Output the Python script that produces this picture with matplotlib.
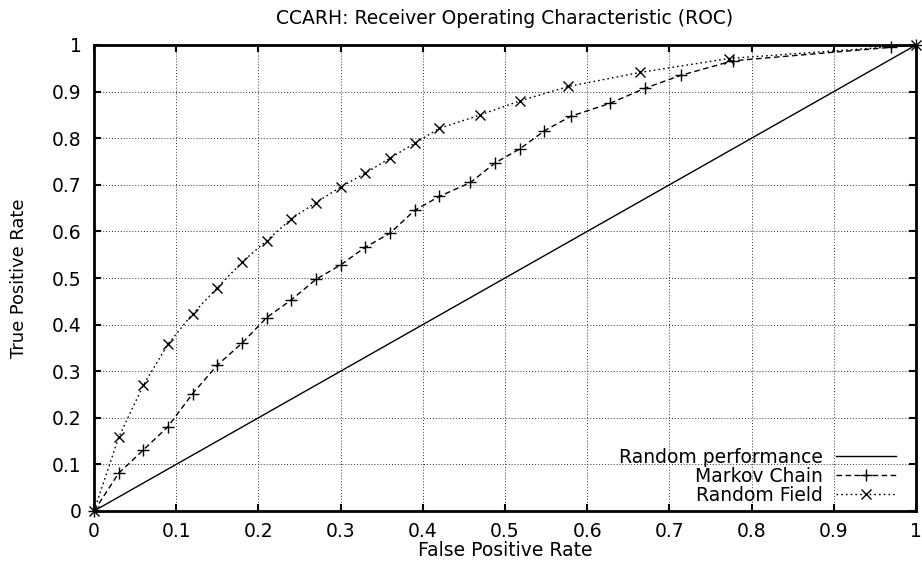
import numpy as np
import matplotlib.pyplot as plt

plt.rcParams['font.family'] = ['DejaVu Sans']

# Markov Chain (+)
mc_fpr = [0.0, 0.03, 0.06, 0.09, 0.12, 0.15, 0.18, 0.21, 0.24, 0.27, 0.30, 0.33,
          0.36, 0.39, 0.42, 0.458, 0.488, 0.518, 0.548, 0.58, 0.628, 0.67, 0.714,
          0.777, 0.969, 1.0]
mc_tpr = [0.0, 0.081, 0.131, 0.181, 0.252, 0.313, 0.360, 0.415, 0.453, 0.497, 0.528, 0.566,
          0.596, 0.645, 0.675, 0.705, 0.747, 0.777, 0.816, 0.847, 0.875, 0.907, 0.935,
          0.966, 0.995, 1.0]

# Random Field (x)
rf_fpr = [0.0, 0.03, 0.06, 0.09, 0.12, 0.15, 0.18, 0.21, 0.24, 0.27, 0.30, 0.33,
          0.36, 0.39, 0.42, 0.47, 0.518, 0.577, 0.664, 0.772, 1.0]
rf_tpr = [0.0, 0.158, 0.270, 0.358, 0.423, 0.479, 0.534, 0.580, 0.627, 0.662, 0.695, 0.725,
          0.757, 0.789, 0.821, 0.850, 0.880, 0.911, 0.941, 0.971, 1.0]

rand_x = [0, 1]
rand_y = [0, 1]

ticks = np.round(np.arange(0, 1.01, 0.1), 1)
tick_labels = ['0', '0.1', '0.2', '0.3', '0.4', '0.5', '0.6', '0.7', '0.8', '0.9', '1']

fs = 13.5

fig = plt.figure(figsize=(9.22, 5.63), dpi=100)
ax = fig.add_axes([94/922, 1 - 511/563, 822/922, 466/563])

ax.plot(rand_x, rand_y, color='black', lw=1.0, label='Random performance')
ax.plot(mc_fpr, mc_tpr, color='black', lw=1.0, linestyle=(0, (4, 2.5)),
        marker='+', markersize=8, markeredgewidth=1.0, clip_on=False, label='Markov Chain')
ax.plot(rf_fpr, rf_tpr, color='black', lw=1.0, linestyle=(0, (1.2, 2.2)),
        marker='x', markersize=7, markeredgewidth=1.0, clip_on=False, label='Random Field')

ax.set_xlim(0, 1)
ax.set_ylim(0, 1)
ax.set_xticks(ticks)
ax.set_yticks(ticks)
ax.set_xticklabels(tick_labels)
ax.set_yticklabels(tick_labels)
ax.tick_params(direction='in', length=5, width=1.5, top=True, right=True,
               labelsize=fs, colors='black')
ax.tick_params(axis='x', pad=8)
ax.tick_params(axis='y', pad=9)
for s in ax.spines.values():
    s.set_linewidth(2.0)
ax.grid(True, color='#333333', lw=0.7, linestyle=(0, (1, 2)))
ax.set_axisbelow(True)

ax.set_title('CCARH: Receiver Operating Characteristic (ROC)', fontsize=fs, pad=15)
ax.set_xlabel('False Positive Rate', fontsize=fs, labelpad=0)
ax.set_ylabel('True Positive Rate', fontsize=12.9, labelpad=17)

ax.legend(loc='lower right', frameon=False, markerfirst=False, fontsize=fs,
          handlelength=3.2, handletextpad=0.7, labelspacing=0.0, numpoints=1,
          borderaxespad=0, borderpad=0,
          bbox_to_anchor=((896 - 94) / 822, (511 - 505) / 466))

fig.savefig('out.png', dpi=100)
